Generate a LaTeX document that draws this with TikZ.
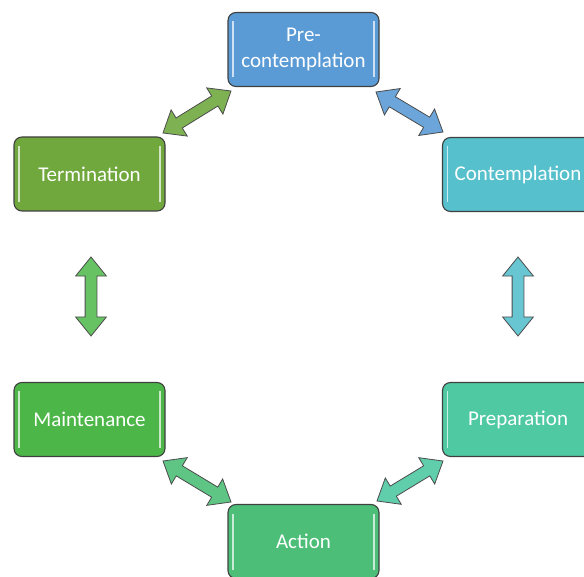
\documentclass[tikz,border=0pt]{standalone}
\usepackage{fontspec}
\setmainfont{Carlito}
\usetikzlibrary{calc,positioning,shapes.arrows}

\definecolor{precol}{RGB}{91,155,213}
\definecolor{concol}{RGB}{86,192,204}
\definecolor{prepcol}{RGB}{78,201,162}
\definecolor{actcol}{RGB}{76,190,120}
\definecolor{maintcol}{RGB}{76,183,72}
\definecolor{termcol}{RGB}{112,168,62}

\tikzset{
  stage/.style={rectangle, rounded corners=8pt, draw=black!75, line width=1.1pt, fill=#1,
    text=white, font=\fontsize{21}{25.5}\selectfont, align=center,
    minimum width=151pt, minimum height=74pt,
    path picture={
      \draw[white!70!#1, line width=1.8pt]
        ([xshift=5pt,yshift=-9pt]path picture bounding box.north west) --
        ([xshift=5pt,yshift=9pt]path picture bounding box.south west);
      \draw[white!70!#1, line width=1.8pt]
        ([xshift=-5pt,yshift=-9pt]path picture bounding box.north east) --
        ([xshift=-5pt,yshift=9pt]path picture bounding box.south east);}},
  dblarrow/.style={double arrow, draw=black!70, line width=0.8pt, fill=#1,
    inner xsep=0pt, inner ysep=5.5pt, double arrow head extend=9.5pt,
    double arrow tip angle=78, minimum width=0pt}
}

\newcommand{\dblarrow}[3]{%
  \path let \p1=(#1), \p2=(#2), \n1={atan2(\y2-\y1,\x2-\x1)}, \n2={veclen(\x2-\x1,\y2-\y1)} in
    node[dblarrow=#3, rotate=\n1, minimum height=\n2] at ($(#1)!0.5!(#2)$) {};}

\begin{document}
\begin{tikzpicture}[x=1pt, y=-1pt]
\path[use as bounding box, clip] (0,0) rectangle (584,577);
\node[stage=precol] (pc) at (303.5,49.5) {Pre-\\contemplation};
\node[stage=concol] (c) at (518,174.5) {Contemplation};
\node[stage=prepcol] (p) at (518,419.5) {Preparation};
\node[stage=actcol] (a) at (303.5,541.5) {Action};
\node[stage=maintcol] (m) at (89.5,419.5) {Maintenance};
\node[stage=termcol] (t) at (89.5,174) {Termination};
% arrow ends
\coordinate (t1) at (163,133);
\coordinate (t2) at (231,91);
\coordinate (c1) at (376,92);
\coordinate (c2) at (443,132);
\coordinate (m1) at (91,257);
\coordinate (m2) at (91,336);
\coordinate (p1) at (518,257);
\coordinate (p2) at (518,336);
\coordinate (a1) at (163,461);
\coordinate (a2) at (231,502);
\coordinate (a3) at (377,501);
\coordinate (a4) at (443,461);
\dblarrow{t1}{t2}{termcol!90!white}
\dblarrow{c1}{c2}{precol!90!white}
\dblarrow{m1}{m2}{maintcol!85!white}
\dblarrow{p1}{p2}{concol!90!white}
\dblarrow{a1}{a2}{actcol!90!white}
\dblarrow{a3}{a4}{prepcol!90!white}
\end{tikzpicture}
\end{document}
